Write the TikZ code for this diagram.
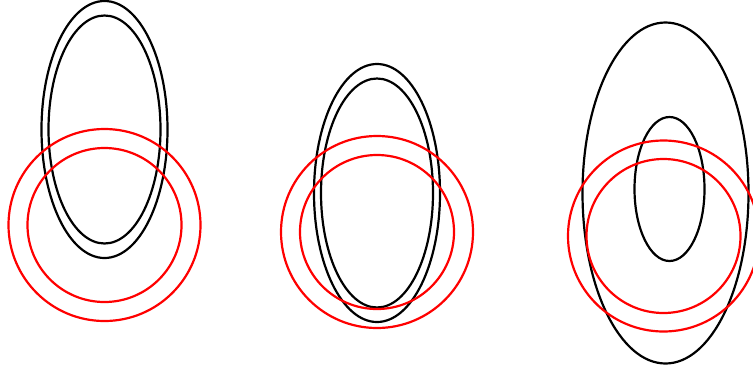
\documentclass[tikz,border=0pt]{standalone}
\usetikzlibrary{positioning}
\tikzset{
  blackring/.style={draw=black,line width=1.25pt},
  redring/.style={draw=red,line width=1.25pt}
}
\begin{document}
\begin{tikzpicture}[x=0.02cm,y=0.02cm]
  \clip (0,0) rectangle (753,373);
  \useasboundingbox (0,0) rectangle (753,373);

  % left group
  \draw[blackring] (104.5,243.5) ellipse [x radius=63,y radius=128.5];
  \draw[blackring] (104.5,243.5) ellipse [x radius=56,y radius=114];
  \draw[redring] (104.5,148) circle [radius=96];
  \draw[redring] (104.5,148) circle [radius=77];

  % middle group
  \draw[blackring] (377,180) ellipse [x radius=63,y radius=129];
  \draw[blackring] (377,180) ellipse [x radius=56,y radius=114.5];
  \draw[redring] (377,141) circle [radius=96];
  \draw[redring] (377,141) circle [radius=77];

  % right group
  \draw[blackring] (665.5,180) ellipse [x radius=83,y radius=170.5];
  \draw[blackring] (669.5,184) ellipse [x radius=35,y radius=72];
  \draw[redring] (663.5,137) circle [radius=95.5];
  \draw[redring] (663.5,137) circle [radius=77];
\end{tikzpicture}
\end{document}
